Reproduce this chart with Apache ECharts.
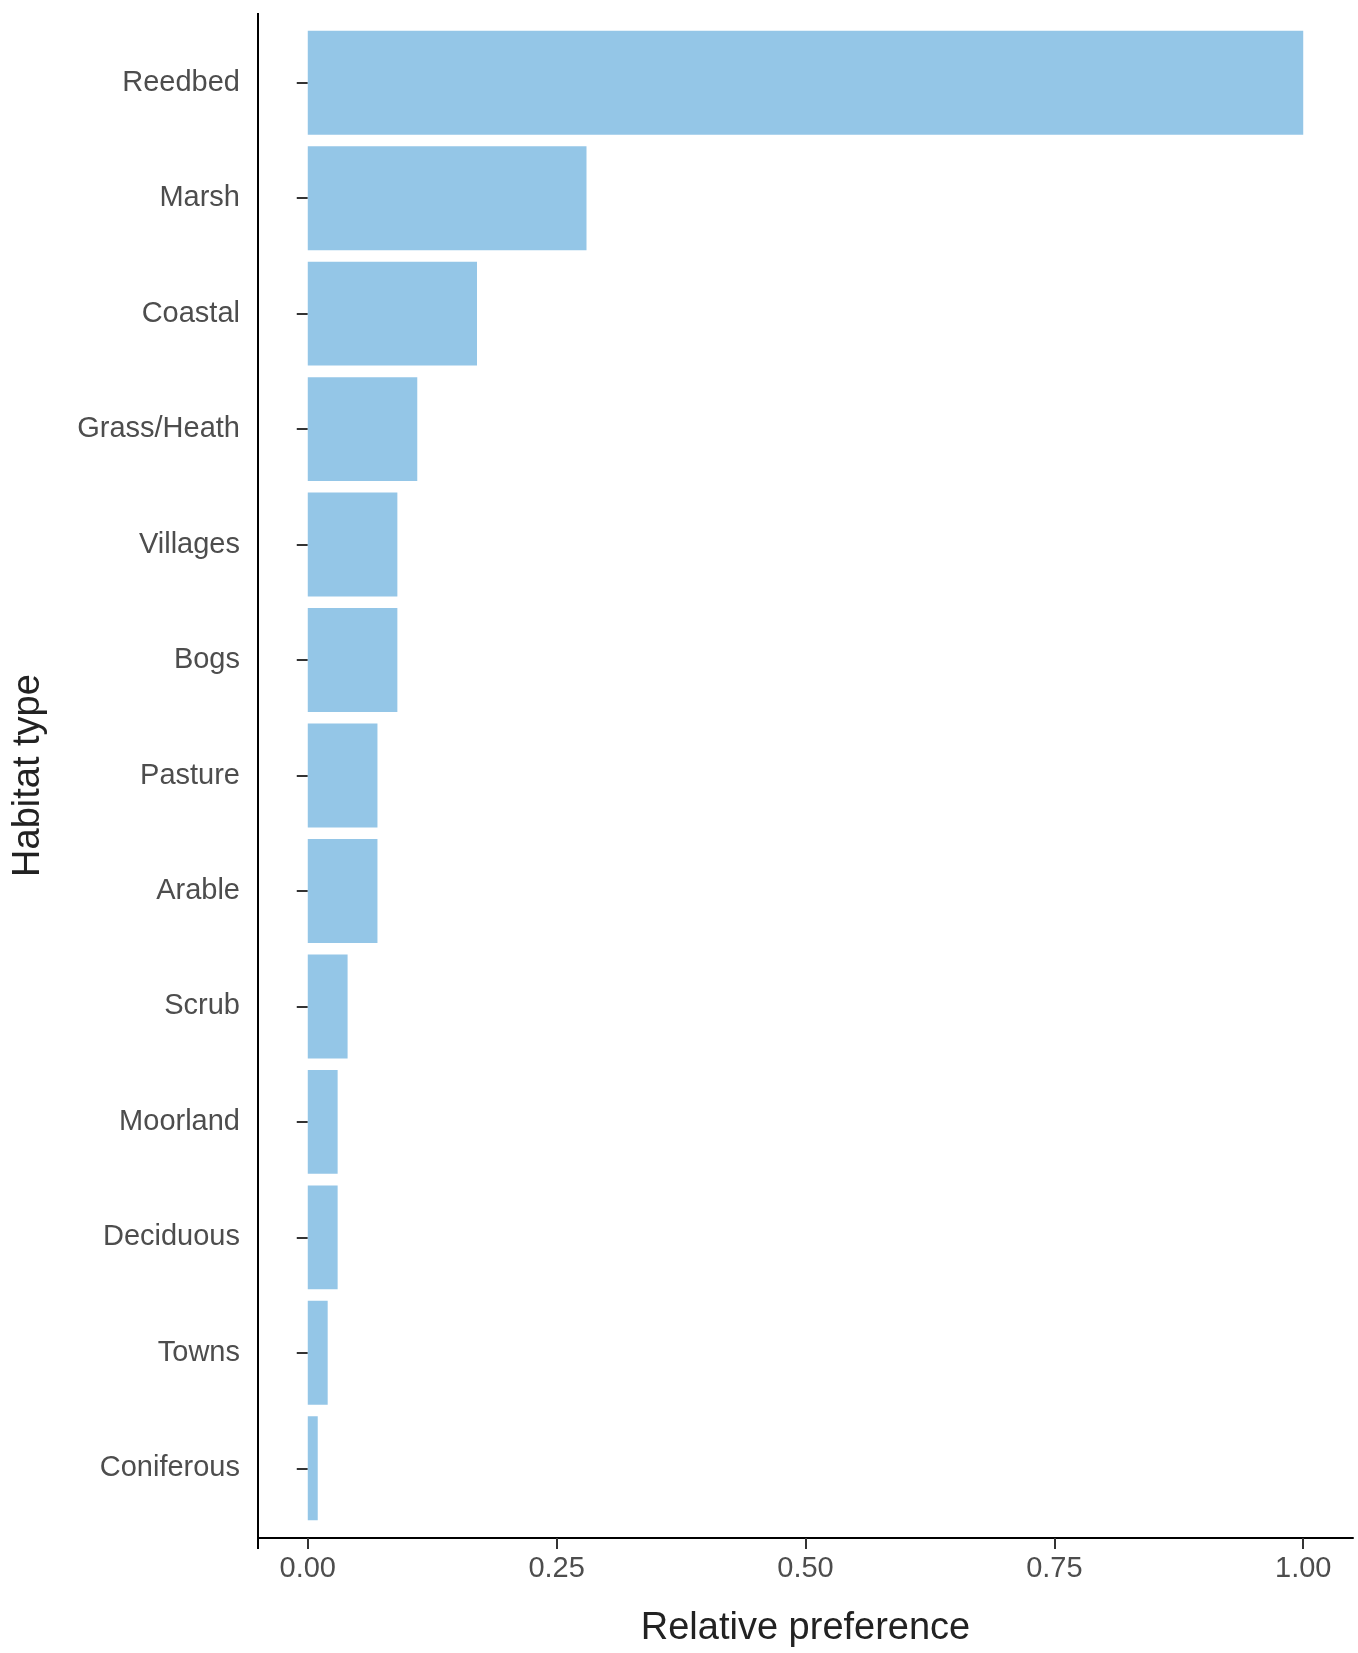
<!DOCTYPE html><html><head><meta charset="utf-8"><script src="https://cdn.jsdelivr.net/npm/echarts@6/dist/echarts.min.js"></script><style>body{margin:0}#c{width:1358px;height:1653px}</style></head><body><div id="c"></div><script>
const categories=["Reedbed","Marsh","Coastal","Grass/Heath","Villages","Bogs","Pasture","Arable","Scrub","Moorland","Deciduous","Towns","Coniferous"];
const values=[1.0,0.28,0.17,0.11,0.09,0.09,0.07,0.07,0.04,0.03,0.03,0.02,0.01];
const xTicks=[0,0.25,0.5,0.75,1];
const chart=echarts.init(document.getElementById('c'));
const font='Liberation Sans';
chart.setOption({
 animation:false,
 grid:{left:258,right:5,top:25,bottom:116},
 xAxis:{type:'value',min:-0.05,max:1.05,offset:12,
  axisLine:{show:true,lineStyle:{color:'#000',width:2}},
  axisTick:{show:true,customValues:xTicks,length:11,lineStyle:{color:'#333',width:2}},
  axisLabel:{customValues:xTicks,formatter:v=>v.toFixed(2),fontSize:29,color:'#4d4d4d',fontFamily:font,margin:16},
  splitLine:{show:false},
  name:'Relative preference',nameLocation:'middle',nameGap:72,nameTextStyle:{fontSize:38,color:'#222',fontFamily:font}},
 yAxis:{type:'category',inverse:true,data:categories,
  axisLine:{show:false},
  axisTick:{show:true,alignWithLabel:true,length:11,lineStyle:{color:'#333',width:2}},
  axisLabel:{fontSize:29,color:'#4d4d4d',fontFamily:font,margin:18},
  name:'Habitat type',nameLocation:'middle',nameGap:210,nameTextStyle:{fontSize:38,color:'#222',fontFamily:font}},
 graphic:[{type:'line',shape:{x1:258,y1:13,x2:258,y2:1549},style:{stroke:'#000',lineWidth:2}}],
 series:[{type:'bar',data:values,barCategoryGap:'10%',itemStyle:{color:'#94C6E7'}}]
});
</script></body></html>
